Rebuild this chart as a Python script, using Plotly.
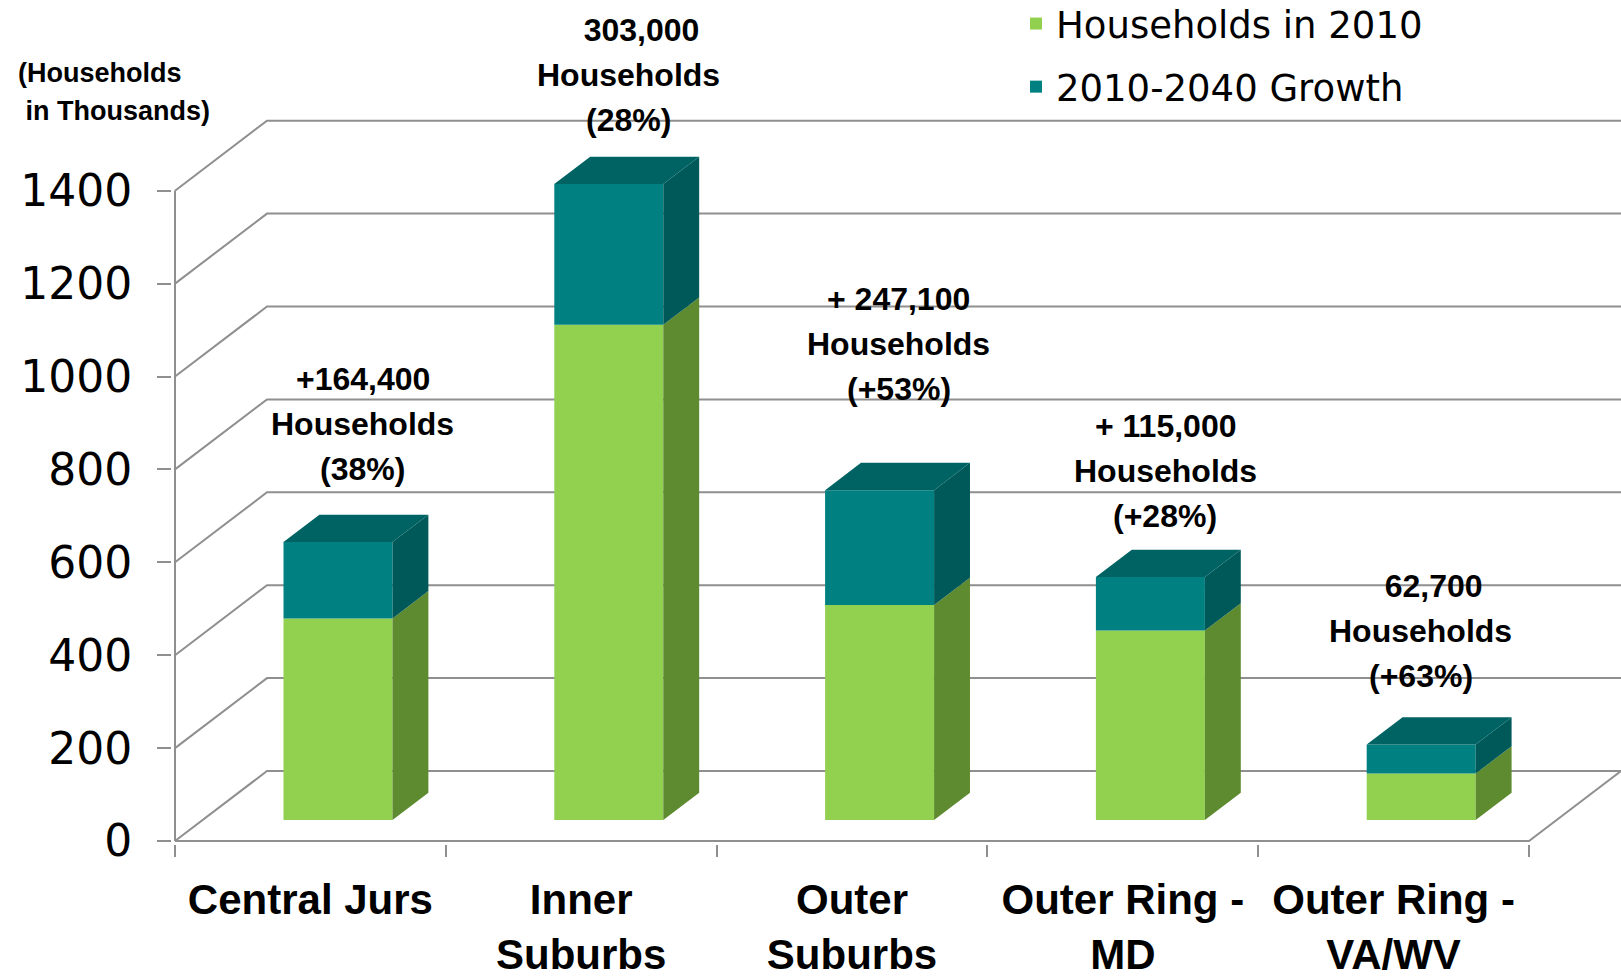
import plotly.graph_objects as go

# ---------------- data ----------------
categories = ["Central Jurs", "Inner<br>Suburbs", "Outer<br>Suburbs",
              "Outer Ring -<br>MD", "Outer Ring -<br>VA/WV"]
households_2010 = [434, 1066, 463, 408, 100]          # thousands
growth_2010_2040 = [164.4, 303.0, 247.1, 115.0, 62.7]  # thousands
growth_labels = ["+164,400", "\u00a0\u00a0\u00a0303,000", "+ 247,100", "+ 115,000", "\u00a0\u00a0\u00a062,700"]
pct_labels = ["(38%)", "(28%)", "(+53%)", "(+28%)", "(+63%)"]
y_ticks = [0, 200, 400, 600, 800, 1000, 1200, 1400]
series_names = ["Households in 2010", "2010-2040 Growth"]

# ---------------- style / geometry ----------------
W_FIG, H_FIG = 1621, 977
PXX = 270.8        # px per category unit
PXY = 0.4645       # px per thousand households
ML, MB = 172, 133
DXU = 92 / PXX     # depth of the wall (x units)
DYU = 70 / PXY     # depth of the wall (y units)
D0, D1 = 0.30, 0.69  # bar front / back depth fractions
BAR_W = 0.4025

x_lo = -0.5 - 3 / PXX
x_hi = x_lo + (W_FIG - ML) / PXX
y_lo = -3 / PXY
y_hi = y_lo + (H_FIG - MB) / PXY

GREEN, GREEN_SIDE = "#92D050", "#5E8A30"
TEAL, TEAL_SIDE, TEAL_TOP = "#008080", "#005959", "#006363"
GRID = "#8F8F8F"

n = len(categories)
xs = list(range(n))
ox, oy = D0 * DXU, D0 * DYU
bdx, bdy = (D1 - D0) * DXU, (D1 - D0) * DYU
xc = [i + ox for i in xs]
green_base = [oy] * n
teal_base = [oy + g for g in households_2010]
tops = [oy + g + t for g, t in zip(households_2010, growth_2010_2040)]

fig = go.Figure()

fig.add_trace(go.Bar(x=xc, y=households_2010, base=green_base, width=BAR_W,
                     marker=dict(color=GREEN, line=dict(width=0)),
                     name=series_names[0], legendgroup="a", hoverinfo="skip"))
fig.add_trace(go.Bar(x=xc, y=growth_2010_2040, base=teal_base, width=BAR_W,
                     marker=dict(color=TEAL, line=dict(width=0)),
                     name=series_names[1], legendgroup="b", hoverinfo="skip"))


def side_faces(lows, highs):
    px, py = [], []
    for c, lo, hi in zip(xc, lows, highs):
        xr = c + BAR_W / 2
        px += [xr, xr + bdx, xr + bdx, xr, xr, None]
        py += [lo, lo + bdy, hi + bdy, hi, lo, None]
    return px, py


gx, gy = side_faces(green_base, teal_base)
tx, ty = side_faces(teal_base, tops)
topx, topy = [], []
for c, t in zip(xc, tops):
    xl, xr = c - BAR_W / 2, c + BAR_W / 2
    topx += [xl, xr, xr + bdx, xl + bdx, xl, None]
    topy += [t, t, t + bdy, t + bdy, t, None]

for px_, py_, col in [(gx, gy, GREEN_SIDE), (tx, ty, TEAL_SIDE), (topx, topy, TEAL_TOP)]:
    fig.add_trace(go.Scatter(x=px_, y=py_, mode="lines", fill="toself",
                             fillcolor=col, line=dict(width=0, color=col),
                             showlegend=False, hoverinfo="skip"))

# back wall gridlines, floor, front axis lines (below the bars)
shapes = []
xl0 = -0.5
xr_back = (n - 0.5) + DXU
for v in y_ticks:
    path = f"M {xl0},{v} L {xl0 + DXU},{v + DYU} L {xr_back},{v + DYU}"
    if v == 0:
        path += f" L {n - 0.5},{v} L {xl0},{v}"
    shapes.append(dict(type="path", xref="x", yref="y", path=path,
                       line=dict(color=GRID, width=2), layer="below"))
shapes.append(dict(type="line", xref="x", yref="y", x0=xl0, x1=xl0, y0=0, y1=y_ticks[-1],
                   line=dict(color=GRID, width=2), layer="below"))

# annotations above bars
label_pos = [(0.194, 897), (1.173, 1649), (2.173, 1069), (3.156, 796), (4.101, 452)]
annotations = []
for (ax, ay), g, p in zip(label_pos, growth_labels, pct_labels):
    for txt, shift in [(g, 45), ("Households", 0), (p, -45)]:
        annotations.append(dict(x=ax, y=ay, xref="x", yref="y", text=txt, showarrow=False,
                                yshift=shift, xanchor="center", yanchor="middle",
                                font=dict(family="Liberation Sans", size=32, color="black", weight="bold")))

# axis title
annotations.append(dict(x=16, y=73, xref="paper", yref="paper", text="(Households", showarrow=False))
annotations.append(dict(x=16, y=111, xref="paper", yref="paper", text=" in Thousands)", showarrow=False))
for a in annotations[-2:]:
    px_x, px_y = a["x"], a["y"]
    a["x"] = (px_x - ML) / (W_FIG - ML)
    a["y"] = 1 - px_y / (H_FIG - MB)
    a["xanchor"] = "left"
    a["yanchor"] = "middle"
    a["font"] = dict(family="Liberation Sans", size=27, color="black", weight="bold")

fig.update_layout(
    width=W_FIG, height=H_FIG,
    margin=dict(l=ML, r=0, t=0, b=MB, pad=0, autoexpand=False),
    paper_bgcolor="white", plot_bgcolor="white",
    barmode="overlay",
    shapes=shapes, annotations=annotations,
    showlegend=True,
    legend=dict(x=(1016 - ML) / (W_FIG - ML), y=1.0 + 7 / (H_FIG - MB), xanchor="left", yanchor="top",
                font=dict(family="DejaVu Sans", size=37, color="black"),
                tracegroupgap=12, bgcolor="rgba(0,0,0,0)"),
    xaxis=dict(range=[x_lo, x_hi], tickmode="array", tickvals=xs, ticktext=categories,
               automargin=False,
               ticks="", showgrid=False, zeroline=False, showline=False,
               ticklabelstandoff=27,
               tickfont=dict(family="Liberation Sans", size=42, color="black", weight="bold"),
               minor=dict(tick0=-0.5, dtick=1, ticks="outside", ticklen=12,
                          tickcolor=GRID, tickwidth=2, showgrid=False)),
    yaxis=dict(range=[y_lo, y_hi], tickmode="array", tickvals=y_ticks,
               automargin=False,
               ticks="outside", ticklen=14, tickcolor=GRID, tickwidth=2,
               ticklabelstandoff=16,
               showgrid=False, zeroline=False, showline=False,
               tickfont=dict(family="DejaVu Sans", size=44, color="black")),
)

fig.write_html("out.html", config={"displayModeBar": False},
               post_script="document.body.style.margin='0';document.body.style.overflow='hidden';")
